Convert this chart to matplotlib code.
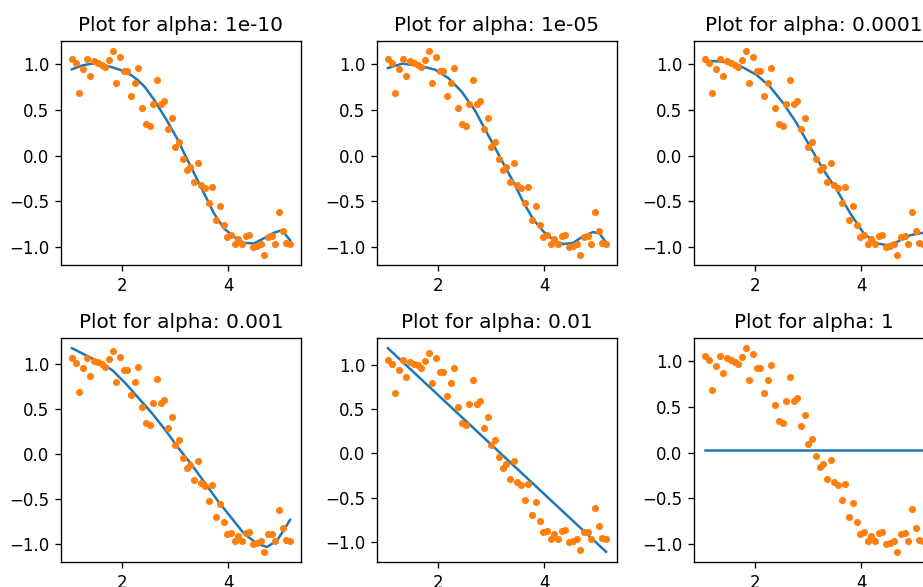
import numpy as np
import matplotlib
matplotlib.use('Agg')
import matplotlib.pyplot as plt

# data: x from 60 to 296 degrees, step 4, in radians
x = np.array([i * np.pi / 180 for i in range(60, 300, 4)])
y = np.array([
    1.058, 1.006, 0.688, 0.946, 1.058, 0.867, 1.032, 1.013, 0.994, 0.964,
    1.047, 1.140, 0.796, 1.073, 0.923, 0.923, 0.647, 0.796, 0.961, 0.520,
    0.344, 0.318, 0.564, 0.826, 0.564, 0.591, 0.288, 0.411, 0.093, 0.150,
    -0.041, -0.161, -0.123, -0.288, -0.082, -0.318, -0.359, -0.523, -0.344, -0.699,
    -0.553, -0.759, -0.890, -0.871, -0.964, -0.908, -0.964, -0.879, -0.867, -1.002,
    -0.983, -0.961, -1.084, -0.886, -0.882, -0.964, -0.617, -0.822, -0.953, -0.964,
])

alphas = ['1e-10', '1e-05', '0.0001', '0.001', '0.01', '1']

# fitted lines
fit_x = [
    [1.047, 1.231, 1.419, 1.606, 1.794, 1.981, 2.173, 2.294, 2.423, 2.606, 2.856,
     3.044, 3.169, 3.356, 3.544, 3.731, 3.919, 4.106, 4.294, 4.481, 4.669, 4.856,
     5.013, 5.166],
    [1.047, 1.317, 1.627, 1.938, 2.186, 2.435, 2.683, 2.870, 3.056, 3.242, 3.429,
     3.615, 3.801, 3.988, 4.174, 4.360, 4.547, 4.733, 4.919, 5.043, 5.166],
    [1.047, 1.386, 1.703, 2.019, 2.272, 2.525, 2.778, 3.030, 3.285, 3.538, 3.791,
     4.044, 4.297, 4.487, 4.677, 4.930, 5.166],
    [1.047, 1.317, 1.565, 1.814, 2.062, 2.311, 2.559, 2.807, 3.056, 3.304, 3.553,
     3.801, 4.050, 4.298, 4.547, 4.733, 4.919, 5.043, 5.166],
    [1.047, 5.166],
    [1.047, 5.166],
]
fit_y = [
    [0.942, 0.982, 1.004, 0.993, 0.967, 0.931, 0.876, 0.822, 0.749, 0.604, 0.367,
     0.175, 0.022, -0.196, -0.415, -0.633, -0.796, -0.887, -0.953, -0.960, -0.905,
     -0.844, -0.815, -0.925],
    [0.956, 1.004, 0.982, 0.938, 0.847, 0.701, 0.500, 0.299, 0.099, -0.102, -0.303,
     -0.522, -0.704, -0.832, -0.923, -0.967, -0.953, -0.880, -0.836, -0.850, -0.953],
    [1.036, 1.026, 0.982, 0.883, 0.755, 0.573, 0.354, 0.099, -0.157, -0.376, -0.631,
     -0.850, -0.960, -0.978, -0.942, -0.869, -0.843],
    [1.170, 1.090, 1.016, 0.925, 0.779, 0.614, 0.450, 0.267, 0.066, -0.117, -0.318,
     -0.519, -0.702, -0.885, -0.994, -1.031, -0.958, -0.848, -0.730],
    [1.189, -1.110],
    [0.033, 0.033],
]

W, H = 923, 587
fig = plt.figure(figsize=(W / 120, H / 120), dpi=120)

lefts = [61, 377, 694]
tops = [41, 338]
aw, ah = 240, 224

for k in range(6):
    r, c = divmod(k, 3)
    ax = fig.add_axes([lefts[c] / W, 1 - (tops[r] + ah) / H, aw / W, ah / H])
    ax.plot(fit_x[k], fit_y[k])
    ax.plot(x, y, '.', markersize=6.5)
    ax.set_title('Plot for alpha: %s' % alphas[k])

fig.savefig('out.png', dpi=120)
